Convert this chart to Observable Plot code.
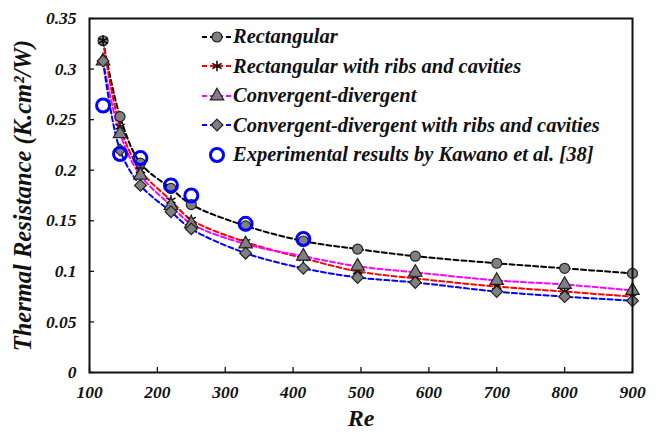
<!DOCTYPE html>
<html>
<head>
<meta charset="utf-8">
<script src="https://cdn.jsdelivr.net/npm/d3@7"></script>
<script src="https://cdn.jsdelivr.net/npm/@observablehq/plot@0.6"></script>
<style>
  html, body { margin: 0; padding: 0; background: #fff; }
  #chart { position: relative; width: 661px; height: 438px; }
  #legend { position: absolute; left: 198px; top: 22px; font: italic bold 20.5px "Liberation Serif", "Times New Roman", serif; color: #111; }
  .row { display: flex; align-items: center; height: 29.5px; white-space: nowrap; }
  .row svg { width: 35px; height: 20px; flex: none; }
</style>
</head>
<body>
<div id="chart"><div id="legend"></div></div>
<script>
// ---- data ----
const re = [120, 145, 175, 220, 250, 330, 415, 495, 580, 700, 800, 900];
const rectangular   = [0.328, 0.253, 0.207, 0.182, 0.166, 0.145, 0.130, 0.122, 0.115, 0.108, 0.103, 0.098];
const rectRibs      = [0.328, 0.243, 0.200, 0.170, 0.151, 0.129, 0.113, 0.100, 0.093, 0.085, 0.080, 0.075];
const convDiv       = [0.308, 0.236, 0.195, 0.165, 0.147, 0.127, 0.115, 0.105, 0.099, 0.091, 0.087, 0.081];
const convDivRibs   = [0.308, 0.220, 0.185, 0.159, 0.142, 0.118, 0.103, 0.094, 0.089, 0.080, 0.075, 0.071];
const expRe         = [120, 145, 175, 220, 250, 330, 415];
const expValues     = [0.264, 0.216, 0.212, 0.185, 0.175, 0.147, 0.132];
const seriesNames = [
  "Rectangular",
  "Rectangular with ribs and cavities",
  "Convergent-divergent",
  "Convergent-divergent with ribs and cavities"
];
const expName = "Experimental results by Kawano et al. [38]";
const xTicks = [100, 200, 300, 400, 500, 600, 700, 800, 900];
const yTicks = [0, 0.05, 0.1, 0.15, 0.2, 0.25, 0.3, 0.35];

// ---- styles per series ----
const seriesValues = [rectangular, rectRibs, convDiv, convDivRibs];
const lineColors = ["#000000", "#ff0000", "#ff00ff", "#0000ff"];
const symbols = ["circle", "asterisk", "triangle", "diamond2"];
const symR = {circle: 5, asterisk: 5, triangle: 5, diamond2: 5.3};

const rows = [];
seriesNames.forEach((name, i) => {
  re.forEach((x, j) => rows.push({series: name, idx: i, re: x, value: seriesValues[i][j]}));
});
const expRows = expRe.map((x, j) => ({re: x, value: expValues[j]}));

const marks = [];
seriesNames.forEach((name, i) => {
  const d = rows.filter(r => r.idx === i);
  marks.push(Plot.line(d, {x: "re", y: "value", stroke: lineColors[i], strokeWidth: 2, strokeDasharray: "5,3", curve: "catmull-rom"}));
});
seriesNames.forEach((name, i) => {
  const d = rows.filter(r => r.idx === i);
  if (symbols[i] === "asterisk") {
    marks.push(Plot.dot(d, {x: "re", y: "value", symbol: "asterisk", r: symR.asterisk, stroke: "#000", strokeWidth: 1.5}));
  } else {
    marks.push(Plot.dot(d, {x: "re", y: "value", symbol: symbols[i], r: symR[symbols[i]], fill: "#808080", stroke: "#222", strokeWidth: 1.2}));
  }
});
marks.push(Plot.dot(expRows, {x: "re", y: "value", r: 6.5, stroke: "#0000ff", strokeWidth: 3, fill: "none"}));

const chart = Plot.plot({
  width: 661,
  height: 438,
  marginLeft: 89,
  marginRight: 29,
  marginTop: 18,
  marginBottom: 66,
  style: {fontFamily: "'Liberation Serif', 'Times New Roman', serif", fontSize: "17.5px", fontWeight: "bold", fontStyle: "italic", color: "#111", background: "#fff"},
  x: {domain: [100, 900]},
  y: {domain: [0, 0.35]},
  marks: [
    ...marks,
    Plot.axisX(xTicks, {tickSize: 0, tickPadding: 13, label: null, tickFormat: d => String(d)}),
    Plot.axisY(yTicks, {tickSize: 0, tickPadding: 13, label: null, tickFormat: d => String(+d.toFixed(2))}),
    Plot.tickX(xTicks, {x: d => d, insetTop: 349, stroke: "#111", strokeWidth: 1.3}),
    Plot.tickY(yTicks, {y: d => d, insetRight: 538, stroke: "#111", strokeWidth: 1.3}),
    Plot.frame({stroke: "#111", strokeWidth: 2}),
    Plot.text(["Thermal Resistance (K.cm²/W)"], {frameAnchor: "left", textAnchor: "middle", dx: -66, rotate: -90, fontSize: 24.5, fill: "#111"}),
    Plot.text(["Re"], {frameAnchor: "bottom", dy: 53, fontSize: 24, fill: "#111"})
  ]
});
document.getElementById("chart").insertBefore(chart, document.getElementById("legend"));

// ---- legend ----
const legend = d3.select("#legend");
const symMap = {circle: d3.symbolCircle, asterisk: d3.symbolAsterisk, triangle: d3.symbolTriangle, diamond2: d3.symbolDiamond2};
seriesNames.forEach((name, i) => {
  const row = legend.append("div").attr("class", "row");
  const svg = row.append("svg");
  svg.append("line").attr("x1", 4).attr("x2", 34).attr("y1", 10).attr("y2", 10)
    .attr("stroke", lineColors[i]).attr("stroke-width", 2).attr("stroke-dasharray", "5,3");
  const rr = symR[symbols[i]];
  const p = svg.append("path").attr("transform", "translate(19,10)")
    .attr("d", d3.symbol(symMap[symbols[i]], Math.PI * rr * rr)());
  if (symbols[i] === "asterisk") p.attr("fill", "none").attr("stroke", "#000").attr("stroke-width", 1.5);
  else p.attr("fill", "#808080").attr("stroke", "#222").attr("stroke-width", 1.2);
  row.append("span").text(name);
});
{
  const row = legend.append("div").attr("class", "row");
  const svg = row.append("svg");
  svg.append("circle").attr("cx", 19).attr("cy", 10).attr("r", 6.5).attr("fill", "none").attr("stroke", "#0000ff").attr("stroke-width", 3);
  row.append("span").text(expName);
}
</script>
</body>
</html>
